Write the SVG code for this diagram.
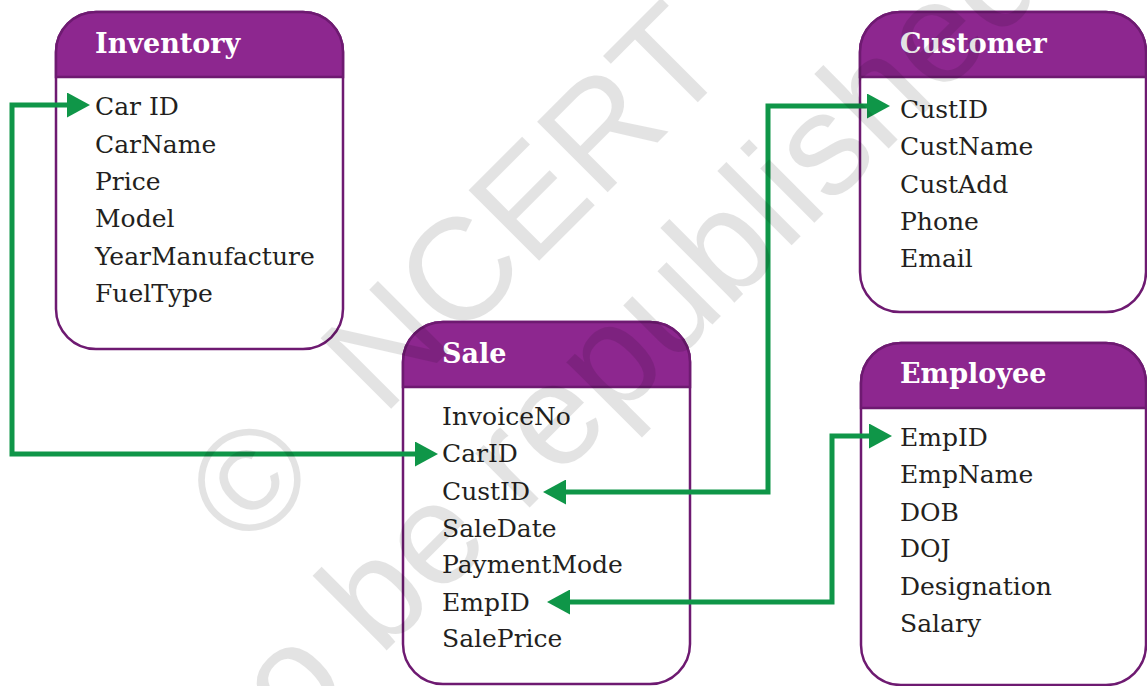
<svg xmlns="http://www.w3.org/2000/svg" width="1147" height="686" viewBox="0 0 1147 686">
<style>
.box{fill:#ffffff;stroke:#6e1a71;stroke-width:2.5}
.hdr{fill:#8d278f;stroke:#6e1a71;stroke-width:2.5}
.title{font-family:"DejaVu Serif","Liberation Serif",serif;font-weight:bold;font-size:27px;fill:#ffffff}
.fld{font-family:"DejaVu Serif","Liberation Serif",serif;font-size:25px;fill:#231f20}
.conn{fill:none;stroke:#0f9648;stroke-width:5;stroke-linejoin:miter;marker-start:url(#ah);marker-end:url(#ah)}
.wm{font-family:"Liberation Sans",Arial,sans-serif;font-size:145px;fill:#000}
</style>
<defs>
<marker id="ah" markerUnits="userSpaceOnUse" viewBox="0 0 23 25" markerWidth="23" markerHeight="25" refX="3" refY="12.5" orient="auto-start-reverse">
<path d="M0,0 L23,12.5 L0,25 Z" fill="#0f9648"/>
</marker>
</defs>
<rect width="1147" height="686" fill="#ffffff"/>

<g id="inventory">
<rect class="box" x="56" y="12" width="287" height="337" rx="40" ry="40"/>
<path class="hdr" d="M56,77 V52 A40,40 0 0 1 96,12 H303 A40,40 0 0 1 343,52 V77 Z"/>
<text class="title" x="95" y="53">Inventory</text>
<text class="fld" x="95" y="115">Car ID</text>
<text class="fld" x="95" y="153">CarName</text>
<text class="fld" x="95" y="190">Price</text>
<text class="fld" x="95" y="227">Model</text>
<text class="fld" x="95" y="265">YearManufacture</text>
<text class="fld" x="95" y="302">FuelType</text>
</g>

<g id="sale">
<rect class="box" x="403" y="322" width="287" height="362" rx="40" ry="40"/>
<path class="hdr" d="M403,387 V362 A40,40 0 0 1 443,322 H650 A40,40 0 0 1 690,362 V387 Z"/>
<text class="title" x="442" y="363">Sale</text>
<text class="fld" x="442" y="425">InvoiceNo</text>
<text class="fld" x="442" y="462">CarID</text>
<text class="fld" x="442" y="500">CustID</text>
<text class="fld" x="442" y="537">SaleDate</text>
<text class="fld" x="442" y="573">PaymentMode</text>
<text class="fld" x="442" y="611">EmpID</text>
<text class="fld" x="442" y="647">SalePrice</text>
</g>

<g id="customer">
<rect class="box" x="860" y="12" width="286" height="300" rx="40" ry="40"/>
<path class="hdr" d="M860,77 V52 A40,40 0 0 1 900,12 H1106 A40,40 0 0 1 1146,52 V77 Z"/>
<text class="title" x="900" y="53">Customer</text>
<text class="fld" x="900" y="118">CustID</text>
<text class="fld" x="900" y="155">CustName</text>
<text class="fld" x="900" y="193">CustAdd</text>
<text class="fld" x="900" y="230">Phone</text>
<text class="fld" x="900" y="267">Email</text>
</g>

<g id="employee">
<rect class="box" x="861" y="343" width="285" height="342" rx="40" ry="40"/>
<path class="hdr" d="M861,408 V383 A40,40 0 0 1 901,343 H1106 A40,40 0 0 1 1146,383 V408 Z"/>
<text class="title" x="900" y="383">Employee</text>
<text class="fld" x="900" y="446">EmpID</text>
<text class="fld" x="900" y="483">EmpName</text>
<text class="fld" x="900" y="521">DOB</text>
<text class="fld" x="900" y="557">DOJ</text>
<text class="fld" x="900" y="595">Designation</text>
<text class="fld" x="900" y="632">Salary</text>
</g>

<g id="connectors">
<path class="conn" d="M418,454 H12 V105 H70"/>
<path class="conn" d="M563,492 H768 V106 H870"/>
<path class="conn" d="M567,602 H832 V436 H872"/>
</g>

<g id="watermark" opacity="0.105">
<text class="wm" transform="translate(247,553) rotate(-45)">©<tspan dx="85">NCERT</tspan></text>
<text class="wm" transform="translate(95,942) rotate(-45)">not to be republished</text>
</g>
</svg>
